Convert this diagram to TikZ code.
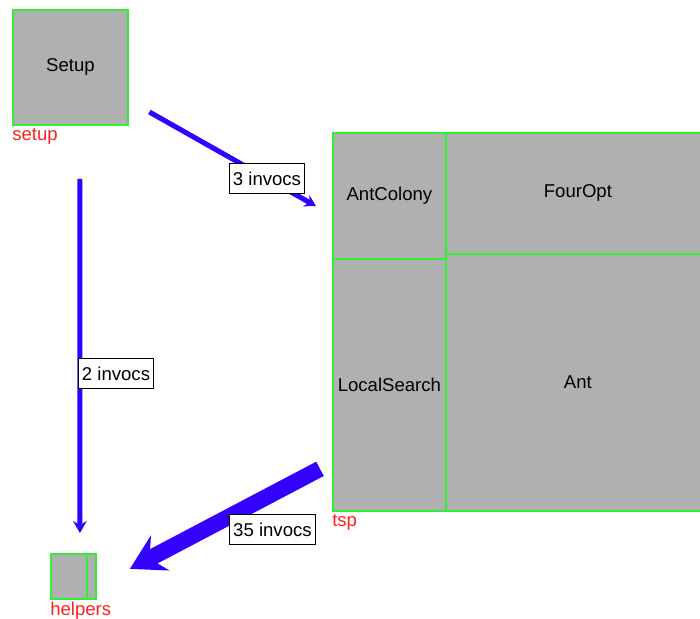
\documentclass[tikz,border=0pt]{standalone}
\usepackage{fontspec}
\setmainfont{Liberation Sans}
\usetikzlibrary{arrows.meta,positioning}
\definecolor{boxgrey}{HTML}{B0AFB2}
\definecolor{edgegreen}{HTML}{33EE33}
\definecolor{callblue}{HTML}{3300FF}
\definecolor{tagred}{HTML}{FF2020}
\newcommand{\px}{0.025cm}

\begin{document}
\begin{tikzpicture}[
    x=\px, y=-\px,
    every node/.style={font=\fontsize{13.2}{15}\selectfont},
    module/.style={draw=edgegreen, fill=boxgrey, line width=1.3pt,
                   inner sep=0pt, anchor=north west},
    tag/.style={text=tagred, anchor=north west, inner xsep=0pt, inner ysep=1.6pt},
    lbl/.style={draw=black, fill=white, line width=0.6pt, inner xsep=2.6pt,
                minimum height=0.76cm},
    call/.style={-{Stealth[length=#1, width=1.15*#1, inset=0.35*#1]},
                 draw=callblue, line width=3.6pt},
    call/.default=0.3cm
  ]
    \useasboundingbox[fill=white] (0,0) rectangle (700,619);

    \node[module, minimum width=115*\px, minimum height=115*\px] (setup) at (12,9) {Setup};
    \node[tag] (setuptag) at (setup.south west) {setup};

    % tsp package with its classes
    \node[module, minimum width=377*\px, minimum height=378*\px] (tsp) at (332,132) {};
    \node[module, minimum width=113*\px, minimum height=126*\px] (antcolony) at (332,132) {AntColony};
    \node[module, minimum width=264*\px, minimum height=121*\px] (fouropt) at (445,132) {FourOpt};
    \node[module, minimum width=113*\px, minimum height=252*\px] (localsearch) at (332,258) {LocalSearch};
    \node[module, minimum width=264*\px, minimum height=257*\px] (ant) at (445,253) {Ant};
    \node[tag] (tsptag) at (tsp.south west) {tsp};

    \node[module, minimum width=45*\px, minimum height=45*\px] (helpers) at (50,553) {};
    \node[module, minimum width=9*\px, minimum height=45*\px] (helpersub) at (86,553) {};
    \node[tag] (helperstag) at (helpers.south west) {helpers};

    % calls
    \draw[call=0.28cm, shorten <=0.59cm, shorten >=0.46cm]
      (setup) -- node[lbl, pos=.68] {3 invocs} (tsp);
    \draw[call, shorten <=1.325cm, shorten >=0.5cm]
      ([xshift=0.2375cm]setup.south) --
      node[lbl, pos=.58, anchor=west, xshift=-0.05cm] {2 invocs}
      ([xshift=0.1625cm]helpers.north);
    \draw[call=0.85cm, line width=11.5pt]
      ([shift={(-12,-43)}]tsp.south west) --
      node[lbl, pos=.25, below=0.5cm] {35 invocs}
      ([shift={(33,-7.5)}]helpers.east);
\end{tikzpicture}
\end{document}
